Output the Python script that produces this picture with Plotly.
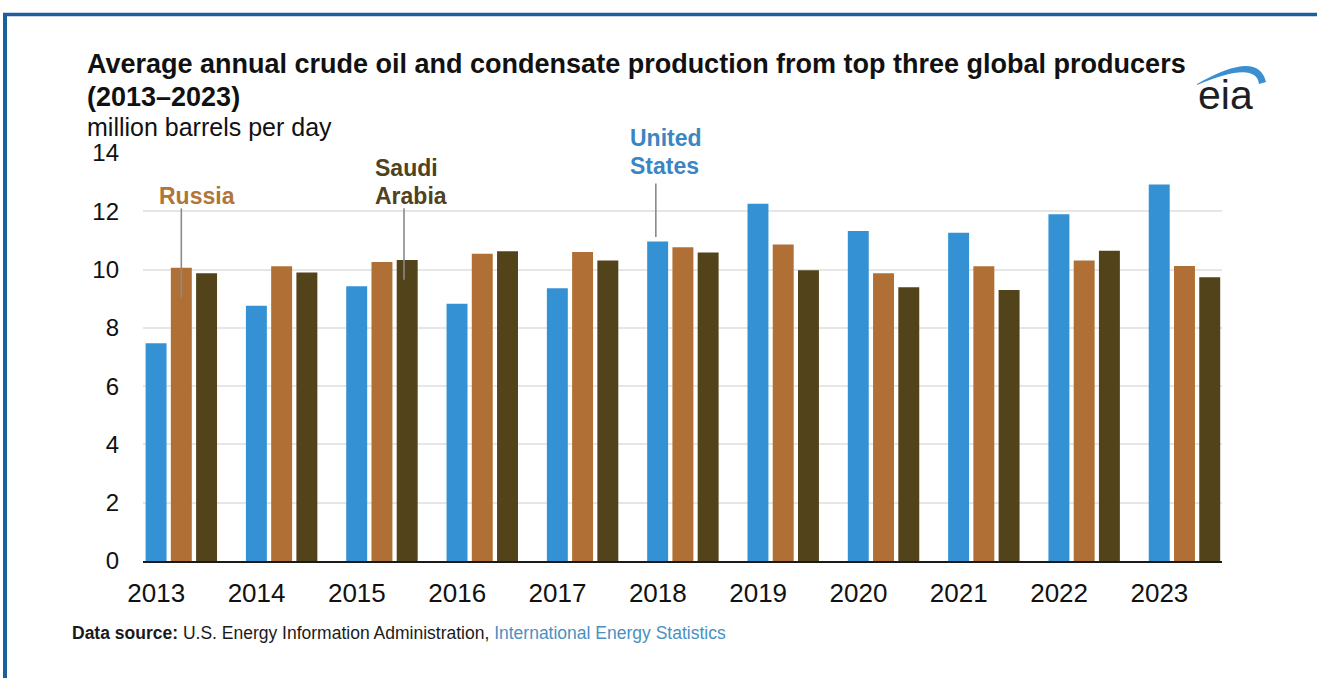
import plotly.graph_objects as go

# Average annual crude oil and condensate production, million barrels per day
years = [2013, 2014, 2015, 2016, 2017, 2018, 2019, 2020, 2021, 2022, 2023]
united_states = [7.47, 8.76, 9.43, 8.83, 9.36, 10.96, 12.26, 11.32, 11.26, 11.90, 12.92]
russia = [10.06, 10.11, 10.26, 10.54, 10.60, 10.77, 10.86, 9.87, 10.11, 10.31, 10.12]
saudi_arabia = [9.87, 9.90, 10.33, 10.63, 10.31, 10.59, 9.98, 9.39, 9.30, 10.65, 9.74]
y_ticks = [0, 2, 4, 6, 8, 10, 12, 14]

US_BLUE = "#3492d4"
RU_BROWN = "#b07035"
SA_OLIVE = "#52431b"
FONT = "Liberation Sans, Arial, sans-serif"

W, H = 1317, 678
L, R, T, B = 143, 1222, 153, 561


def px_x(px):
    return (px - L) / (R - L)


def px_y(py):
    return (B - py) / (B - T)


def baseline_y(py, size):
    # paper y of a bottom-anchored text box whose baseline sits at pixel row py
    return px_y(py + 0.212 * size + 1)


fig = go.Figure()
for name, vals, color in [("United States", united_states, US_BLUE),
                          ("Russia", russia, RU_BROWN),
                          ("Saudi Arabia", saudi_arabia, SA_OLIVE)]:
    fig.add_bar(x=years, y=vals, name=name, marker_color=color,
                marker_line_width=0)

annotations = []


def text(px, py, s, size, color="#111111", bold=False, anchor="left"):
    annotations.append(dict(
        x=px_x(px), y=baseline_y(py, size), xref="paper", yref="paper",
        xanchor=anchor, yanchor="bottom", showarrow=False, text=s,
        font=dict(family=FONT, size=size, color=color,
                  weight="bold" if bold else "normal"),
    ))


# headline, units
text(85, 74, "Average annual crude oil and condensate production from top three global producers", 27, bold=True)
text(85, 107, "(2013\u20132023)", 27, bold=True)
text(85, 137, "million barrels per day", 25)

# series labels
text(157, 205, "Russia", 23, "#b07538", bold=True)
text(373, 177, "Saudi", 23, "#4f421c", bold=True)
text(373, 205, "Arabia", 23, "#4f421c", bold=True)
text(628, 147, "United", 23, "#3a85c2", bold=True)
text(628, 175, "States", 23, "#3a85c2", bold=True)

# logo wordmark
text(1196, 110, "eia", 41, "#1d1f24")

# source line
annotations.append(dict(
    x=px_x(70), y=baseline_y(640, 17.5), xref="paper", yref="paper",
    xanchor="left", yanchor="bottom", showarrow=False,
    text=("<b>Data source:</b> U.S. Energy Information Administration, "
          "<span style='color:#4a90c2'>International Energy Statistics</span>"),
    font=dict(family=FONT, size=17.5, color="#1a1a1a"),
))

shapes = []
# leader lines from labels to bars (data coordinates)
for x0, y_top, y_bot in [(2013.0, 12.1, 9.05), (2015.22, 12.1, 9.65),
                         (2017.73, 12.95, 11.12)]:
    shapes.append(dict(type="line", xref="x", yref="y", x0=x0, x1=x0,
                       y0=y_top, y1=y_bot, line=dict(color="#8a8a8a", width=1.6)))


def path_px(cmds):
    out = []
    for c in cmds:
        if isinstance(c, str):
            out.append(c)
        else:
            out.append(f"{px_x(c[0]):.5f},{px_y(c[1]):.5f}")
    return " ".join(out)


# logo swoosh
swoosh = path_px(["M", (1197, 84), "Q", (1258, 49), (1266, 82),
                  "L", (1259, 84), "Q", (1256, 60), (1197, 85), "Z"])
shapes.append(dict(type="path", xref="paper", yref="paper", path=swoosh,
                   fillcolor="#3b8fd0", line=dict(width=0)))

# frame lines
shapes.append(dict(type="line", xref="paper", yref="paper",
                   x0=px_x(3), x1=px_x(1320), y0=px_y(14.5), y1=px_y(14.5),
                   line=dict(color="#1d5e9d", width=3.5)))
shapes.append(dict(type="line", xref="paper", yref="paper",
                   x0=px_x(5), x1=px_x(5), y0=px_y(13), y1=px_y(690),
                   line=dict(color="#1d5e9d", width=4)))

fig.update_layout(
    width=W, height=H,
    margin=dict(l=L, r=W - R, t=T, b=H - B, pad=0),
    paper_bgcolor="white", plot_bgcolor="white",
    barmode="group", bargap=0.245, bargroupgap=0.17,
    showlegend=False,
    font=dict(family=FONT, color="#111111"),
    annotations=annotations,
    shapes=shapes,
    xaxis=dict(
        type="linear", range=[2012.618, 2023.374],
        tickvals=[y - 0.25 for y in years], ticktext=[str(y) for y in years],
        showgrid=False, zeroline=False, showline=True,
        linecolor="#1a1a1a", linewidth=2, ticks="",
        tickfont=dict(size=26, color="#111111"), ticklabelstandoff=8,
    ),
    yaxis=dict(
        range=[0, 14], tickvals=y_ticks, showgrid=True,
        gridcolor="#e6e6e6", gridwidth=1.5, zeroline=False, showline=False,
        ticks="", tickfont=dict(size=24, color="#111111"), ticklabelstandoff=23,
    ),
)

fig.write_html("out.html")
